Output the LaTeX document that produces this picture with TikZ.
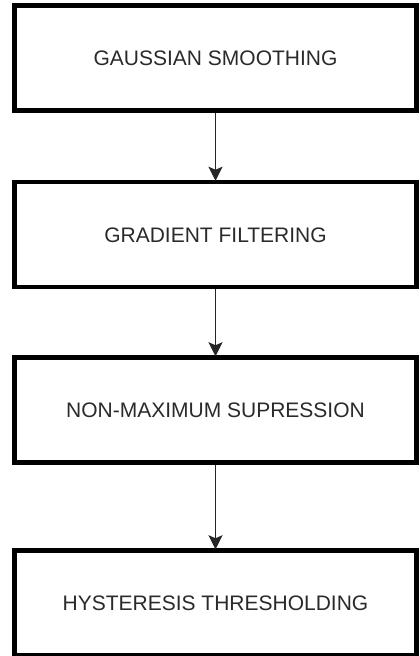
\documentclass[tikz,border=0pt]{standalone}
\usepackage{fontspec}
\setmainfont{Liberation Sans}
\usetikzlibrary{arrows.meta}
\definecolor{txtgray}{HTML}{2A2A2A}
\tikzset{
  stage/.style={draw=black, line width=4.5pt, rectangle, minimum width=402pt,
    minimum height=105pt, inner sep=0pt, text=txtgray,
    font=\fontsize{21}{24}\selectfont, text height=15pt, text depth=0pt},
  flow/.style={draw=black!85, line width=1.8pt,
    -{Stealth[width=14pt,length=14pt,inset=3pt]}, shorten >=-1pt}
}
\begin{document}
\begin{tikzpicture}[x=1pt,y=-1pt]
  \useasboundingbox (0,0) rectangle (420,656);
  \node[stage] (gauss) at (215.5,58) {GAUSSIAN SMOOTHING};
  \node[stage] (grad)  at (215.5,234.5) {GRADIENT FILTERING};
  \node[stage] (nms)   at (215.5,410) {NON-MAXIMUM SUPRESSION};
  \node[stage] (hyst)  at (215.5,603) {HYSTERESIS THRESHOLDING};
  \draw[flow] (gauss.south) -- (grad.north);
  \draw[flow] (grad.south)  -- (nms.north);
  \draw[flow] (nms.south)   -- (hyst.north);
\end{tikzpicture}
\end{document}
